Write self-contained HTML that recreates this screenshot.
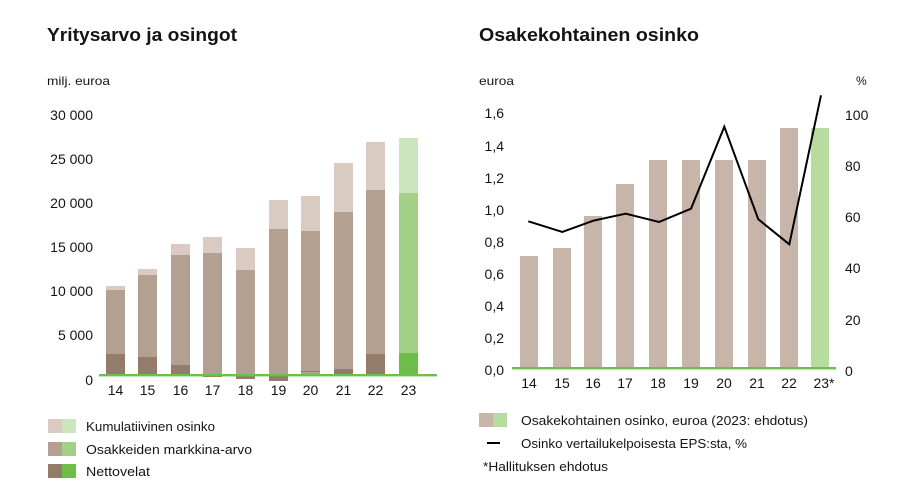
<!DOCTYPE html>
<html><head><meta charset="utf-8"><style>
html,body{margin:0;padding:0;background:#fff;}
svg{display:block;}
text{font-family:"Liberation Sans",sans-serif;fill:#141414;}
</style></head><body>
<svg width="921" height="504" viewBox="0 0 921 504" xmlns="http://www.w3.org/2000/svg">
<!-- Titles -->
<text x="47" y="41" font-size="18" font-weight="bold" textLength="190" lengthAdjust="spacingAndGlyphs">Yritysarvo ja osingot</text>
<text x="479" y="41" font-size="18" font-weight="bold" textLength="220" lengthAdjust="spacingAndGlyphs">Osakekohtainen osinko</text>
<text x="47" y="85" font-size="12" textLength="63" lengthAdjust="spacingAndGlyphs">milj. euroa</text>
<text x="479" y="85" font-size="12" textLength="35" lengthAdjust="spacingAndGlyphs">euroa</text>
<text x="856" y="85" font-size="12">%</text>

<!-- Left chart y ticks -->
<g font-size="14" text-anchor="end">
<text x="93" y="120">30 000</text>
<text x="93" y="164">25 000</text>
<text x="93" y="208">20 000</text>
<text x="93" y="252">15 000</text>
<text x="93" y="296">10 000</text>
<text x="93" y="340">5 000</text>
<text x="93" y="385">0</text>
</g>
<!-- Left chart bars -->
<g>
<rect x="106" y="286" width="19" height="4" fill="#d9cbc1"/><rect x="106" y="290" width="19" height="64" fill="#b3a091"/><rect x="106" y="354" width="19" height="21" fill="#957c6a"/>
<rect x="138" y="269" width="19" height="6" fill="#d9cbc1"/><rect x="138" y="275" width="19" height="82" fill="#b3a091"/><rect x="138" y="357" width="19" height="18" fill="#957c6a"/>
<rect x="171" y="244" width="19" height="11" fill="#d9cbc1"/><rect x="171" y="255" width="19" height="110" fill="#b3a091"/><rect x="171" y="365" width="19" height="10" fill="#957c6a"/>
<rect x="203" y="237" width="19" height="16" fill="#d9cbc1"/><rect x="203" y="253" width="19" height="122" fill="#b3a091"/><rect x="203" y="375" width="19" height="2" fill="#957c6a"/>
<rect x="236" y="248" width="19" height="22" fill="#d9cbc1"/><rect x="236" y="270" width="19" height="105" fill="#b3a091"/><rect x="236" y="375" width="19" height="4" fill="#957c6a"/>
<rect x="269" y="200" width="19" height="29" fill="#d9cbc1"/><rect x="269" y="229" width="19" height="146" fill="#b3a091"/><rect x="269" y="375" width="19" height="6" fill="#957c6a"/>
<rect x="301" y="196" width="19" height="35" fill="#d9cbc1"/><rect x="301" y="231" width="19" height="144" fill="#b3a091"/><rect x="301" y="371" width="19" height="1" fill="#957c6a"/>
<rect x="334" y="163" width="19" height="49" fill="#d9cbc1"/><rect x="334" y="212" width="19" height="157" fill="#b3a091"/><rect x="334" y="369" width="19" height="6" fill="#957c6a"/>
<rect x="366" y="142" width="19" height="48" fill="#d9cbc1"/><rect x="366" y="190" width="19" height="164" fill="#b3a091"/><rect x="366" y="354" width="19" height="21" fill="#957c6a"/>
<rect x="399" y="138" width="19" height="55" fill="#cde5bf"/><rect x="399" y="193" width="19" height="160" fill="#a1d086"/><rect x="399" y="353" width="19" height="22" fill="#6dbe48"/>
</g>
<rect x="99" y="374" width="338" height="2.4" fill="#6dbf4b"/>
<!-- Left x labels -->
<g font-size="14" text-anchor="middle">
<text x="115.5" y="395">14</text>
<text x="147.5" y="395">15</text>
<text x="180.5" y="395">16</text>
<text x="212.5" y="395">17</text>
<text x="245.5" y="395">18</text>
<text x="278.5" y="395">19</text>
<text x="310.5" y="395">20</text>
<text x="343.5" y="395">21</text>
<text x="375.5" y="395">22</text>
<text x="408.5" y="395">23</text>
</g>
<!-- Left legend -->
<rect x="48" y="419" width="14" height="14" fill="#d9cbc1"/><rect x="62" y="419" width="14" height="14" fill="#cde5bf"/>
<rect x="48" y="442" width="14" height="14" fill="#b3a091"/><rect x="62" y="442" width="14" height="14" fill="#a1d086"/>
<rect x="48" y="464" width="14" height="14" fill="#957c6a"/><rect x="62" y="464" width="14" height="14" fill="#6dbe48"/>
<g font-size="13">
<text x="86" y="431" textLength="129" lengthAdjust="spacingAndGlyphs">Kumulatiivinen osinko</text>
<text x="86" y="454" textLength="166" lengthAdjust="spacingAndGlyphs">Osakkeiden markkina-arvo</text>
<text x="86" y="476" textLength="64" lengthAdjust="spacingAndGlyphs">Nettovelat</text>
</g>

<!-- Right chart ticks -->
<g font-size="14" text-anchor="end">
<text x="504" y="118">1,6</text>
<text x="504" y="151">1,4</text>
<text x="504" y="183">1,2</text>
<text x="504" y="215">1,0</text>
<text x="504" y="247">0,8</text>
<text x="504" y="279">0,6</text>
<text x="504" y="311">0,4</text>
<text x="504" y="343">0,2</text>
<text x="504" y="375">0,0</text>
</g>
<g font-size="14">
<text x="845" y="120">100</text>
<text x="845" y="171">80</text>
<text x="845" y="222">60</text>
<text x="845" y="273">40</text>
<text x="845" y="325">20</text>
<text x="845" y="376">0</text>
</g>
<!-- Right bars -->
<g fill="#c7b5a9">
<rect x="520" y="256" width="18" height="112"/>
<rect x="553" y="248" width="18" height="120"/>
<rect x="584" y="216" width="18" height="152"/>
<rect x="616" y="184" width="18" height="184"/>
<rect x="649" y="160" width="18" height="208"/>
<rect x="682" y="160" width="18" height="208"/>
<rect x="715" y="160" width="18" height="208"/>
<rect x="748" y="160" width="18" height="208"/>
<rect x="780" y="128" width="18" height="240"/>
</g>
<rect x="811" y="128" width="18" height="240" fill="#b6dca0"/>
<rect x="512" y="367" width="324" height="2.4" fill="#6dbf4b"/>
<polyline fill="none" stroke="#000" stroke-width="2" stroke-linejoin="miter" points="528.3,221.3 562.3,232 593.3,220.7 625.7,213.7 659,222 691,208.7 724.3,126.7 758.3,219.3 789.3,244.3 821,95.3"/>
<!-- Right x labels -->
<g font-size="14" text-anchor="middle">
<text x="529" y="388">14</text>
<text x="562" y="388">15</text>
<text x="593" y="388">16</text>
<text x="625" y="388">17</text>
<text x="658" y="388">18</text>
<text x="691" y="388">19</text>
<text x="724" y="388">20</text>
<text x="757" y="388">21</text>
<text x="789" y="388">22</text>
<text x="824" y="388">23*</text>
</g>
<!-- Right legend -->
<rect x="479" y="413" width="14" height="14" fill="#c7b5a9"/><rect x="493" y="413" width="14" height="14" fill="#b6dca0"/>
<rect x="487" y="442" width="13" height="2" fill="#000"/>
<g font-size="13">
<text x="521" y="425" textLength="287" lengthAdjust="spacingAndGlyphs">Osakekohtainen osinko, euroa (2023: ehdotus)</text>
<text x="521" y="448" textLength="226" lengthAdjust="spacingAndGlyphs">Osinko vertailukelpoisesta EPS:sta, %</text>
<text x="483" y="471" textLength="125" lengthAdjust="spacingAndGlyphs">*Hallituksen ehdotus</text>
</g>
</svg>
</body></html>
